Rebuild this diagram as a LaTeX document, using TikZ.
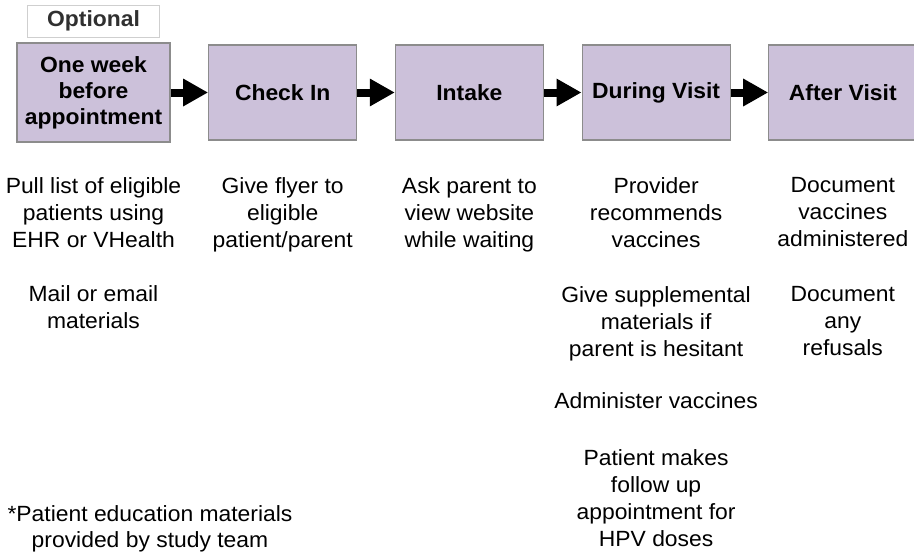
\documentclass[tikz,border=0pt]{standalone}
\usepackage{fontspec}
\setmainfont{Liberation Sans}[FakeStretch=1.04]
\usepackage{tikz}
\usetikzlibrary{positioning, arrows.meta}
\usepackage{xcolor}
\definecolor{stagefill}{HTML}{CCC1DA}
\definecolor{stageline}{HTML}{8C8C8C}
\definecolor{optline}{HTML}{CFCFCF}
\definecolor{opttext}{HTML}{303030}

\begin{document}
\begin{tikzpicture}[x=1pt, y=-1pt,
  stage/.style={rectangle, draw=stageline, line width=1.2pt, fill=stagefill, align=center,
    minimum width=148pt, minimum height=95pt, inner sep=0pt,
    font=\fontsize{22}{26}\selectfont\bfseries},
  note/.style={align=center, inner sep=0pt, anchor=north, font=\fontsize{22}{27}\selectfont},
  flow/.style={line width=8pt, -{Triangle[length=25pt, width=26pt]}}]
\useasboundingbox (0,0) rectangle (914,557);

\node[stage, minimum width=153pt, minimum height=99pt] (week) at (93.5,92.5) {One week\\before\\appointment};
\node[rectangle, draw=optline, fill=white, minimum width=132pt, minimum height=32pt, inner sep=0pt,
  font=\fontsize{22}{26}\selectfont\bfseries, text=opttext] (optional) [above=5pt of week] {Optional};

\node[stage] (checkin) [right=37.5pt of week] {Check In};
\node[stage] (intake) [right=37.5pt of checkin] {Intake};
\node[stage] (during) [right=37.5pt of intake] {During Visit};
\node[stage] (after) [right=37.5pt of during] {After Visit};

% steps under each stage
\node[note] (pull) at (week |- 0,177) {Pull list of eligible\\patients using\\EHR or VHealth};
\node[note] (mail) at (week |- 0,285) {Mail or email\\materials};
\node[note] (flyer) at (checkin |- 0,177) {Give flyer to\\eligible\\patient/parent};
\node[note] (website) at (intake |- 0,177) {Ask parent to\\view website\\while waiting};
\node[note] (recommend) at (during |- 0,177) {Provider\\recommends\\vaccines};
\node[note] (supplement) at (during |- 0,286) {Give supplemental\\materials if\\parent is hesitant};
\node[note] (administer) at (during |- 0,392) {Administer vaccines};
\node[note] (followup) at (during |- 0,449) {Patient makes\\follow up\\appointment for\\HPV doses};
\node[note] (document) at (after |- 0,177) {Document\\vaccines\\administered};
\node[note] (refusal) at (after |- 0,286) {Document\\any\\refusals};

\node[note, font=\fontsize{22}{26}\selectfont] (footnote) at (150,505) {*Patient education materials\\provided by study team};

\draw[flow] (week) -- (checkin);
\draw[flow] (checkin) -- (intake);
\draw[flow] (intake) -- (during);
\draw[flow] (during) -- (after);

\end{tikzpicture}
\end{document}
